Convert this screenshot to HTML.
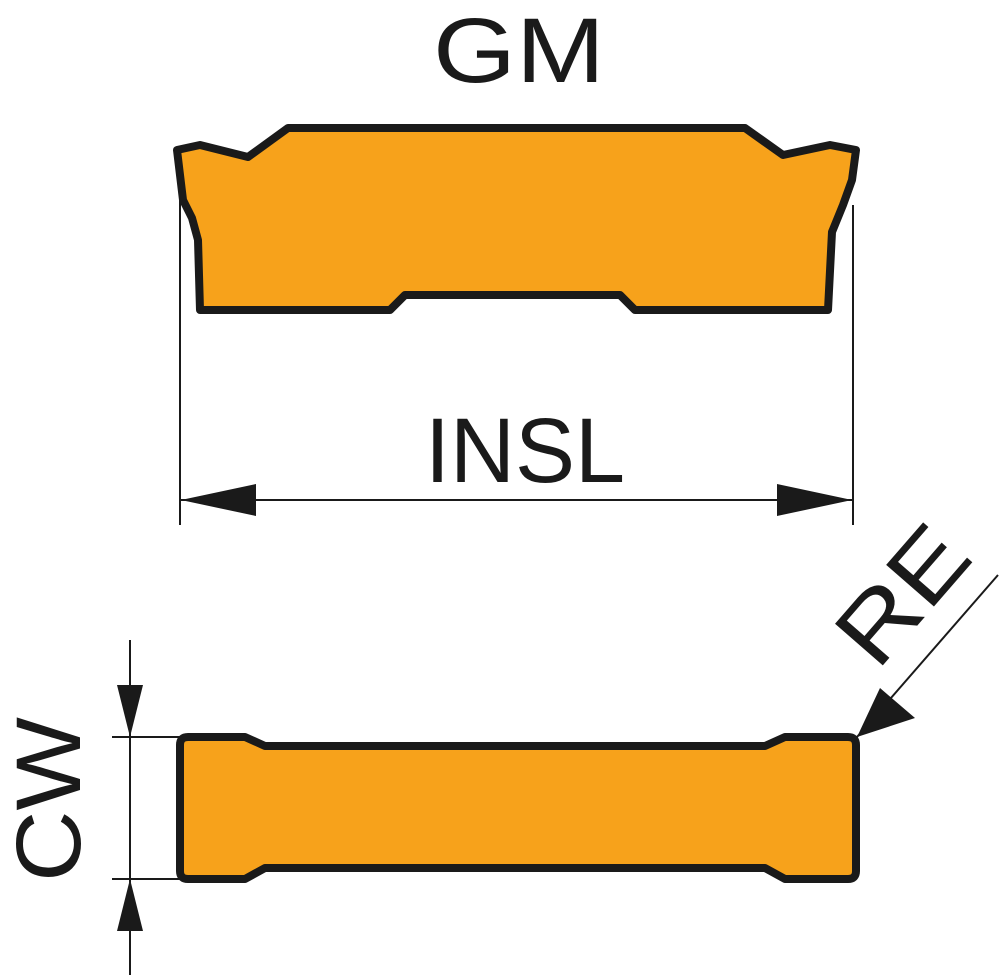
<!DOCTYPE html>
<html><head><style>body{margin:0;background:#fff}svg{display:block}</style></head><body>
<svg width="1000" height="977" viewBox="0 0 1000 977" xmlns="http://www.w3.org/2000/svg" font-family="Liberation Sans, sans-serif">
<path d="M177,150 L200,145 L248,157 L288,128 L745,128 L783,155 L830,145 L856,150 L852,180 L843,205 L832,232 L828,310 L635,310 L620,295 L405,295 L390,310 L200,310 L198,240 L192,218 L183,200 Z" fill="#f7a21b" stroke="#1a1a1a" stroke-width="8" stroke-linejoin="round"/>
<g stroke="#1a1a1a" stroke-width="2" fill="none">
<line x1="180" y1="200" x2="180" y2="525"/>
<line x1="853" y1="205" x2="853" y2="525"/>
<line x1="180" y1="500" x2="853" y2="500"/>
<line x1="130" y1="640" x2="130" y2="975"/>
<line x1="112" y1="737" x2="180" y2="737"/>
<line x1="112" y1="879" x2="180" y2="879"/>
<line x1="857" y1="737" x2="998" y2="575"/>
</g>
<g fill="#1a1a1a">
<polygon points="181,500 256,484 256,516"/>
<polygon points="852,500 777,484 777,516"/>
<polygon points="130,737 117,685 143,685"/>
<polygon points="130,879 117,931 143,931"/>
<polygon points="857,737 880,688 915,718"/>
</g>
<path d="M188,737 L245,737 L265,746 L765,746 L785,737 L848,737 Q856,737 856,745 L856,871 Q856,879 848,879 L785,879 L765,868 L265,868 L245,879 L188,879 Q180,879 180,871 L180,745 Q180,737 188,737 Z" fill="#f7a21b" stroke="#1a1a1a" stroke-width="8" stroke-linejoin="round"/>
<g fill="#1a1a1a" font-size="92">
<text x="433" y="82" textLength="172" lengthAdjust="spacingAndGlyphs">GM</text>
<text x="425" y="482" textLength="200" lengthAdjust="spacingAndGlyphs">INSL</text>
<text transform="translate(80,882) rotate(-90)" textLength="165" lengthAdjust="spacingAndGlyphs">CW</text>
<text transform="translate(877,672) rotate(-49)" textLength="150" lengthAdjust="spacingAndGlyphs">RE</text>
</g>
</svg>
</body></html>
